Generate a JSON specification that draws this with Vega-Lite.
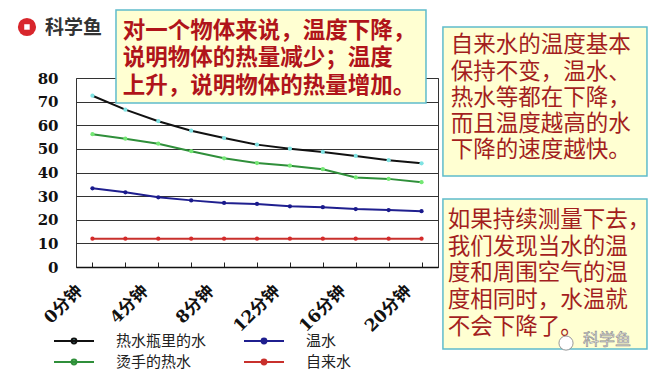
{
  "$schema": "https://vega.github.io/schema/vega-lite/v6.json",
  "autosize": {"type": "none"},
  "padding": {"left": 76, "top": 78, "right": 212, "bottom": 109},
  "width": 362,
  "height": 189,
  "background": "white",
  "config": {
    "view": {"stroke": "#333", "strokeWidth": 1},
    "font": "Noto Sans CJK SC"
  },
  "datasets": {
    "temps": [
      {"minute": 0, "series": "热水瓶里的水", "temp": 72.5},
      {"minute": 2, "series": "热水瓶里的水", "temp": 66.6},
      {"minute": 4, "series": "热水瓶里的水", "temp": 61.7},
      {"minute": 6, "series": "热水瓶里的水", "temp": 57.7},
      {"minute": 8, "series": "热水瓶里的水", "temp": 54.6},
      {"minute": 10, "series": "热水瓶里的水", "temp": 51.8},
      {"minute": 12, "series": "热水瓶里的水", "temp": 50.1},
      {"minute": 14, "series": "热水瓶里的水", "temp": 48.7},
      {"minute": 16, "series": "热水瓶里的水", "temp": 47.0},
      {"minute": 18, "series": "热水瓶里的水", "temp": 45.2},
      {"minute": 20, "series": "热水瓶里的水", "temp": 43.9},
      {"minute": 0, "series": "烫手的热水", "temp": 56.2},
      {"minute": 2, "series": "烫手的热水", "temp": 54.3},
      {"minute": 4, "series": "烫手的热水", "temp": 52.2},
      {"minute": 6, "series": "烫手的热水", "temp": 49.0},
      {"minute": 8, "series": "烫手的热水", "temp": 46.0},
      {"minute": 10, "series": "烫手的热水", "temp": 44.0},
      {"minute": 12, "series": "烫手的热水", "temp": 42.9},
      {"minute": 14, "series": "烫手的热水", "temp": 41.4},
      {"minute": 16, "series": "烫手的热水", "temp": 37.9},
      {"minute": 18, "series": "烫手的热水", "temp": 37.3},
      {"minute": 20, "series": "烫手的热水", "temp": 35.9},
      {"minute": 0, "series": "温水", "temp": 33.3},
      {"minute": 2, "series": "温水", "temp": 31.6},
      {"minute": 4, "series": "温水", "temp": 29.5},
      {"minute": 6, "series": "温水", "temp": 28.2},
      {"minute": 8, "series": "温水", "temp": 27.1},
      {"minute": 10, "series": "温水", "temp": 26.7},
      {"minute": 12, "series": "温水", "temp": 25.7},
      {"minute": 14, "series": "温水", "temp": 25.3},
      {"minute": 16, "series": "温水", "temp": 24.5},
      {"minute": 18, "series": "温水", "temp": 24.1},
      {"minute": 20, "series": "温水", "temp": 23.6},
      {"minute": 0, "series": "自来水", "temp": 12},
      {"minute": 2, "series": "自来水", "temp": 12},
      {"minute": 4, "series": "自来水", "temp": 12},
      {"minute": 6, "series": "自来水", "temp": 12},
      {"minute": 8, "series": "自来水", "temp": 12},
      {"minute": 10, "series": "自来水", "temp": 12},
      {"minute": 12, "series": "自来水", "temp": 12},
      {"minute": 14, "series": "自来水", "temp": 12},
      {"minute": 16, "series": "自来水", "temp": 12},
      {"minute": 18, "series": "自来水", "temp": 12},
      {"minute": 20, "series": "自来水", "temp": 12}
    ],
    "boxes": [
      {"box": "b1", "m1": 1.43, "m2": 20.27, "t1": 108.8, "t2": 69.4},
      {"box": "b2", "m1": 21.3, "m2": 33.7, "t1": 101.6, "t2": 38.5},
      {"box": "b3", "m1": 21.3, "m2": 33.7, "t1": 28.8, "t2": -34.7}
    ],
    "notes": [
      {"box": "b1", "m": 1.84, "t": 99.9, "text": "对一个物体来说，温度下降，"},
      {"box": "b1", "m": 1.84, "t": 88.5, "text": "说明物体的热量减少；温度"},
      {"box": "b1", "m": 1.84, "t": 76.8, "text": "上升，说明物体的热量增加。"},
      {"box": "b2", "m": 21.77, "t": 94.0, "text": "自来水的温度基本"},
      {"box": "b2", "m": 21.77, "t": 82.5, "text": "保持不变，温水、"},
      {"box": "b2", "m": 21.77, "t": 71.6, "text": "热水等都在下降，"},
      {"box": "b2", "m": 21.77, "t": 60.5, "text": "而且温度越高的水"},
      {"box": "b2", "m": 21.77, "t": 49.5, "text": "下降的速度越快。"},
      {"box": "b3", "m": 21.6, "t": 19.9, "text": "如果持续测量下去，"},
      {"box": "b3", "m": 21.6, "t": 8.5, "text": "我们发现当水的温"},
      {"box": "b3", "m": 21.6, "t": -2.5, "text": "度和周围空气的温"},
      {"box": "b3", "m": 21.6, "t": -14.0, "text": "度相同时，水温就"},
      {"box": "b3", "m": 21.6, "t": -25.4, "text": "不会下降了。"}
    ],
    "marks": [
      {"kind": "logo", "m": -3.98, "t": 101.6, "text": ""},
      {"kind": "logoText", "m": -2.88, "t": 101.2, "text": "科学鱼"},
      {"kind": "wm", "m": 28.78, "t": -32.2, "text": ""},
      {"kind": "wmText", "m": 29.81, "t": -30.9, "text": "科学鱼"}
    ]
  },
  "resolve": {"scale": {"x": "independent", "y": "independent"}, "axis": {"x": "independent", "y": "independent"}},
  "layer": [
    {
      "data": {"name": "temps"},
      "encoding": {
        "x": {
          "field": "minute", "type": "ordinal",
          "scale": {"paddingInner": 0, "paddingOuter": 0},
          "axis": {
            "title": null,
            "bandPosition": 0,
            "labelExpr": "datum.value % 4 == 0 ? datum.value + '分钟' : ''",
            "labelAngle": -45,
            "labelAlign": "right",
            "labelBaseline": "middle",
            "labelFont": "DejaVu Serif, Noto Sans CJK SC",
            "labelFontWeight": "bold",
            "labelFontSize": 17,
            "labelColor": "#111",
            "labelPadding": 26,
            "labelOffset": -13,
            "labelOverlap": false,
            "labelBound": false,
            "tickSize": -5,
            "tickColor": "#222",
            "domainColor": "#111",
            "domainWidth": 1.5,
            "grid": false
          }
        },
        "y": {
          "field": "temp", "type": "quantitative",
          "scale": {"domain": [0, 80], "nice": false},
          "axis": {
            "title": null,
            "values": [0, 10, 20, 30, 40, 50, 60, 70, 80],
            "tickCount": 9,
            "labelOverlap": false,
            "grid": true,
            "gridColor": "#333",
            "gridOpacity": 1,
            "ticks": false,
            "domain": false,
            "labelFont": "DejaVu Serif",
            "labelFontWeight": "bold",
            "labelFontSize": 15,
            "labelColor": "#111",
            "labelPadding": 18
          }
        }
      },
      "layer": [
        {
          "mark": {"type": "line", "strokeWidth": 2},
          "encoding": {
            "color": {
              "field": "series", "type": "nominal",
              "scale": {
                "domain": ["热水瓶里的水", "烫手的热水", "温水", "自来水"],
                "range": ["#111111", "#2f8f3a", "#1f1f8f", "#c8302c"]
              },
              "legend": {
                "title": null,
                "orient": "none",
                "legendX": -11,
                "legendY": 254,
                "columns": 2,
                "columnPadding": 33,
                "rowPadding": 4,
                "symbolType": "M-2.5,0H2.5M-0.3,0A0.3,0.3,0,1,1,0.3,0A0.3,0.3,0,1,1,-0.3,0Z",
                "symbolSize": 256,
                "symbolStrokeWidth": 2,
                "labelFont": "Noto Sans CJK SC",
                "labelFontSize": 15,
                "labelColor": "#222",
                "labelOffset": 33,
                "encode": {"symbols": {"update": {"fill": {"signal": "scale('fill', datum.value)"}}}}
              }
            }
          }
        },
        {
          "mark": {"type": "point", "filled": true, "size": 18, "opacity": 1},
          "encoding": {
            "fill": {
              "field": "series", "type": "nominal",
              "scale": {
                "domain": ["热水瓶里的水", "烫手的热水", "温水", "自来水"],
                "range": ["#7fe3e3", "#74e874", "#1a1a8c", "#d42a2a"]
              },
              "legend": null
            }
          }
        }
      ]
    },
    {
      "encoding": {
        "x": {"type": "quantitative", "scale": {"domain": [-1, 21], "nice": false, "zero": false}, "axis": null},
        "y": {"type": "quantitative", "scale": {"domain": [0, 80], "nice": false, "zero": false}, "axis": null}
      },
      "layer": [
        {
          "data": {"name": "boxes"},
          "mark": {"type": "rect", "fill": "#ffffd2", "stroke": "#5fbccb", "strokeWidth": 1.5},
          "encoding": {
            "x": {"field": "m1", "type": "quantitative"},
            "x2": {"field": "m2"},
            "y": {"field": "t1", "type": "quantitative"},
            "y2": {"field": "t2"}
          }
        },
        {
          "data": {"name": "notes"},
          "transform": [{"filter": "datum.box == 'b1'"}],
          "mark": {"type": "text", "align": "left", "baseline": "middle", "font": "Noto Sans CJK SC", "fontWeight": "bold", "fontSize": 22.5, "color": "#b0141a"},
          "encoding": {
            "x": {"field": "m", "type": "quantitative"},
            "y": {"field": "t", "type": "quantitative"},
            "text": {"field": "text"}
          }
        },
        {
          "data": {"name": "notes"},
          "transform": [{"filter": "datum.box != 'b1'"}],
          "mark": {"type": "text", "align": "left", "baseline": "middle", "font": "Noto Sans CJK SC", "fontSize": 22.5, "color": "#a31e1e"},
          "encoding": {
            "x": {"field": "m", "type": "quantitative"},
            "y": {"field": "t", "type": "quantitative"},
            "text": {"field": "text"}
          }
        },
        {
          "data": {"name": "marks"},
          "transform": [{"filter": "datum.kind == 'logo'"}],
          "mark": {"type": "point", "filled": true, "shape": "circle", "size": 330, "color": "#d8262c", "opacity": 1},
          "encoding": {
            "x": {"field": "m", "type": "quantitative"},
            "y": {"field": "t", "type": "quantitative"}
          }
        },
        {
          "data": {"name": "marks"},
          "transform": [{"filter": "datum.kind == 'logo'"}],
          "mark": {"type": "point", "filled": true, "shape": "square", "size": 30, "color": "#ffffff", "opacity": 1},
          "encoding": {
            "x": {"field": "m", "type": "quantitative"},
            "y": {"field": "t", "type": "quantitative"}
          }
        },
        {
          "data": {"name": "marks"},
          "transform": [{"filter": "datum.kind == 'logoText'"}],
          "mark": {"type": "text", "align": "left", "baseline": "middle", "font": "Noto Sans CJK SC", "fontWeight": "bold", "fontSize": 19, "color": "#333333"},
          "encoding": {
            "x": {"field": "m", "type": "quantitative"},
            "y": {"field": "t", "type": "quantitative"},
            "text": {"field": "text"}
          }
        },
        {
          "data": {"name": "marks"},
          "transform": [{"filter": "datum.kind == 'wm'"}],
          "mark": {"type": "point", "filled": true, "shape": "circle", "size": 200, "fill": "#ffffff", "stroke": "#999999", "strokeWidth": 1, "opacity": 1},
          "encoding": {
            "x": {"field": "m", "type": "quantitative"},
            "y": {"field": "t", "type": "quantitative"}
          }
        },
        {
          "data": {"name": "marks"},
          "transform": [{"filter": "datum.kind == 'wmText'"}],
          "mark": {"type": "text", "align": "left", "baseline": "middle", "font": "Noto Sans CJK SC", "fontSize": 16, "fill": "#f2f2f2", "stroke": "#8a8a8a", "strokeWidth": 0.6},
          "encoding": {
            "x": {"field": "m", "type": "quantitative"},
            "y": {"field": "t", "type": "quantitative"},
            "text": {"field": "text"}
          }
        }
      ]
    }
  ]
}
